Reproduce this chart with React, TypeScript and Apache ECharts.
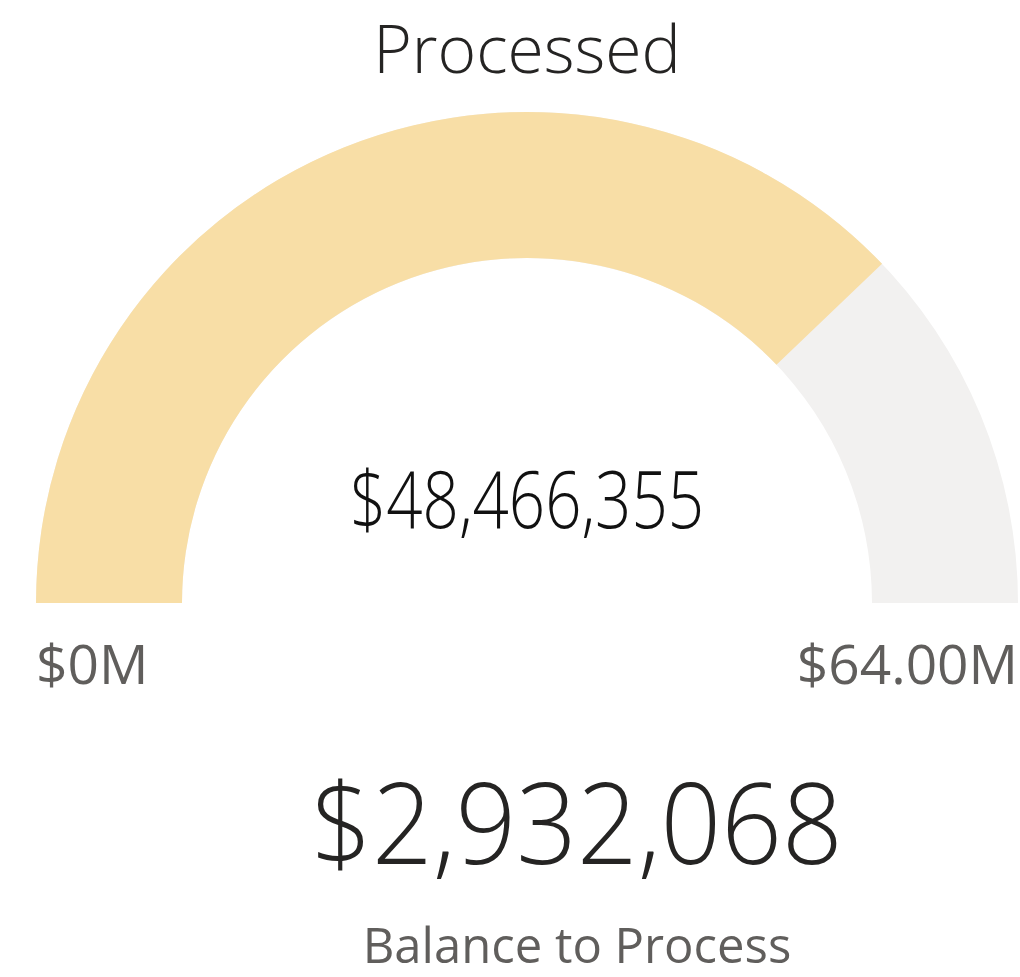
import React, { useEffect, useRef } from "react";
import * as echarts from "echarts";

const gaugeMin = 0;
const gaugeMax = 64000000;
const processedValue = 48466355;
const balanceValue = 2932068;
const titleText = "Processed";
const minLabel = "$0M";
const maxLabel = "$64.00M";
const balanceLabel = "Balance to Process";

const fmt = (v: number) => "$" + Math.round(v).toLocaleString("en-US");

export default function App() {
  const ref = useRef<HTMLDivElement>(null);
  useEffect(() => {
    const chart = echarts.init(ref.current!, null, { renderer: "svg" });
    chart.setOption({
      animation: false,
      backgroundColor: "#ffffff",
      series: [
        {
          type: "gauge",
          center: [527, 603],
          radius: 491,
          startAngle: 180,
          endAngle: 0,
          min: gaugeMin,
          max: gaugeMax,
          axisLine: { lineStyle: { width: 146, color: [[1, "#F2F1F0"]] } },
          progress: { show: true, width: 146, itemStyle: { color: "#F8DEA6" } },
          pointer: { show: false },
          axisTick: { show: false },
          splitLine: { show: false },
          axisLabel: { show: false },
          anchor: { show: false },
          title: { show: false },
          detail: { show: false },
          data: [{ value: processedValue }],
        },
      ],
      graphic: [
        {
          type: "text",
          x: 527,
          y: 497,
          scaleX: 0.795,
          style: {
            text: fmt(processedValue),
            fontFamily: "'Open Sans', sans-serif",
            fontWeight: 300,
            fontSize: 80,
            fill: "#111111",
            textAlign: "center",
            textVerticalAlign: "middle",
          },
        },
        {
          type: "text",
          x: 527,
          y: 47,
          style: {
            text: titleText,
            fontFamily: "'Open Sans', sans-serif",
            fontWeight: 300,
            fontSize: 66,
            fill: "#252423",
            textAlign: "center",
            textVerticalAlign: "middle",
          },
        },
        {
          type: "text",
          x: 36,
          y: 662,
          style: {
            text: minLabel,
            fontFamily: "'Open Sans', sans-serif",
            fontSize: 55,
            fill: "#605E5C",
            textAlign: "left",
            textVerticalAlign: "middle",
          },
        },
        {
          type: "text",
          x: 1018,
          y: 662,
          style: {
            text: maxLabel,
            fontFamily: "'Open Sans', sans-serif",
            fontSize: 55,
            fill: "#605E5C",
            textAlign: "right",
            textVerticalAlign: "middle",
          },
        },
        {
          type: "text",
          x: 577,
          y: 820,
          scaleX: 0.95,
          style: {
            text: fmt(balanceValue),
            fontFamily: "'Open Sans', sans-serif",
            fontWeight: 300,
            fontSize: 112,
            fill: "#252423",
            textAlign: "center",
            textVerticalAlign: "middle",
          },
        },
        {
          type: "text",
          x: 577,
          y: 944,
          style: {
            text: balanceLabel,
            fontFamily: "'Open Sans', sans-serif",
            fontSize: 49,
            fill: "#605E5C",
            textAlign: "center",
            textVerticalAlign: "middle",
          },
        },
      ],
    });
    return () => chart.dispose();
  }, []);
  return (
    <div
      ref={ref}
      style={{ position: "fixed", left: 0, top: 0, width: 1020, height: 977 }}
    />
  );
}
